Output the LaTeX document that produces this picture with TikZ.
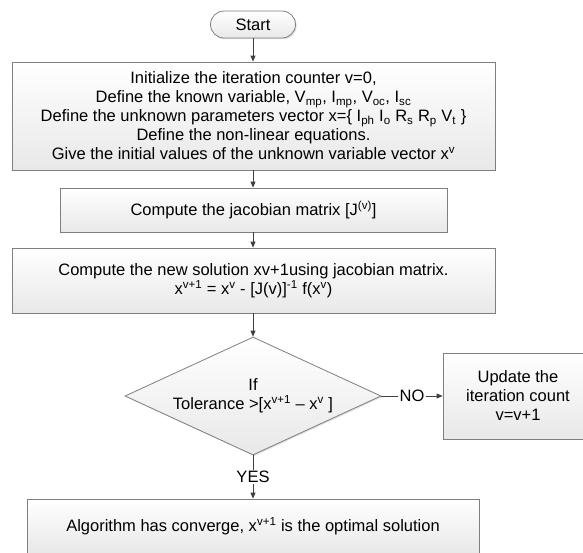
\documentclass[tikz,border=0pt]{standalone}
\usepackage{fontspec}
\setmainfont{Liberation Sans}
\usetikzlibrary{shapes.geometric,arrows.meta,shadows}
\definecolor{boxline}{HTML}{7F7F7F}
\definecolor{flowline}{HTML}{404040}
\begin{document}
\begin{tikzpicture}[x=1pt,y=-1pt]
			\tikzstyle{every node}+=[inner sep=0pt, font=\fontsize{16.5}{19}\selectfont]
			\tikzstyle{stepbox}=[draw=boxline, line width=0.8pt, top color=white, bottom color=black!9, align=center, drop shadow={shadow xshift=1.2pt, shadow yshift=-1.2pt, opacity=0.25}]
			\tikzstyle{startbox}=[stepbox, rounded corners=13.5pt]
			\tikzstyle{decision}=[stepbox, diamond, aspect=2.17, minimum width=256pt, minimum height=118pt]
			\tikzstyle{flow}=[draw=flowline, line width=0.8pt, -{Triangle[length=6pt, width=5pt]}]
			\tikzstyle{flowlabel}=[fill=white, inner xsep=2pt, inner ysep=1pt]
			\useasboundingbox (0,0) rectangle (583,552);
			\node [startbox, minimum width=85pt, minimum height=27pt] (start) at (253,24.5) {Start};
			\node [stepbox, minimum width=483pt, minimum height=108pt] (init) at (253.5,116) {Initialize the iteration counter v=0,\\
				Define the known variable, V\textsubscript{mp}, I\textsubscript{mp}, V\textsubscript{oc}, I\textsubscript{sc}\\
				Define the unknown parameters vector x=\{ I\textsubscript{ph} I\textsubscript{o} R\textsubscript{s} R\textsubscript{p} V\textsubscript{t} \}\\
				Define the non-linear equations.\\
				Give the initial values of the unknown variable vector x\textsuperscript{v}};
			\node [stepbox, minimum width=387pt, minimum height=44pt] (jacobian) at (253.5,210) {Compute the jacobian matrix [J\textsuperscript{(v)}]};
			\node [stepbox, minimum width=483pt, minimum height=65pt] (newsol) at (253.5,280.5) {Compute the new solution xv+1using jacobian matrix.\\
				x\textsuperscript{v+1} = x\textsuperscript{v} - [J(v)]\textsuperscript{-1} f(x\textsuperscript{v})};
			\node [decision] (tol) at (253,396) {If\\Tolerance >[x\textsuperscript{v+1} – x\textsuperscript{v} ]};
			\node [stepbox, minimum width=150pt, minimum height=86pt] (update) at (518,396) {Update the\\iteration count\\v=v+1};
			\node [stepbox, minimum width=452pt, minimum height=54pt] (done) at (253,526) {Algorithm has converge, x\textsuperscript{v+1} is the optimal solution};
			\draw [flow] (start.south) -- (start.south |- init.north);
			\draw [flow] (init.south -| start.south) -- (start.south |- jacobian.north);
			\draw [flow] (jacobian.south -| start.south) -- (start.south |- newsol.north);
			\draw [flow] (newsol.south -| tol.north) -- (tol.north);
			\draw [flow] (tol.east) -- node [flowlabel] {NO} (update.west);
			\draw [flow] (tol.south) -- node [flowlabel] {YES} (done.north);
\end{tikzpicture}
\end{document}
